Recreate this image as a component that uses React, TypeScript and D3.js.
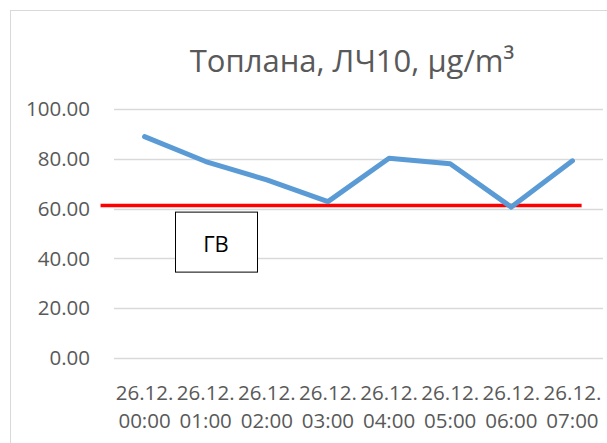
import React, { useEffect, useRef } from 'react';
import * as d3 from 'd3';

// hourly PM10 values
const categories = ['00:00', '01:00', '02:00', '03:00', '04:00', '05:00', '06:00', '07:00'];
const datePrefix = '26.12.';
const pm10 = [88.9, 78.9, 71.5, 62.8, 80.2, 78.0, 60.6, 79.2];
const limitValue = 61.2;
const yTicks = [0, 20, 40, 60, 80, 100];
const title = 'Топлана, ЛЧ10, µg/m³';
const limitLabel = 'ГВ';

const W = 607;
const H = 443;
const FONT = '"Open Sans", "Noto Sans", sans-serif';

export default function App() {
    const svgRef = useRef<SVGSVGElement>(null);

    useEffect(() => {
        const svg = d3.select(svgRef.current);
        svg.selectAll('*').remove();

        const margin = { top: 109, right: 4, bottom: 85, left: 114 };
        const innerW = W - margin.left - margin.right;
        const innerH = H - margin.top - margin.bottom;

        svg.append('rect')
            .attr('width', W).attr('height', H).attr('fill', '#fff');

        // chart area border
        svg.append('rect')
            .attr('x', 10.5).attr('y', 10.5)
            .attr('width', W + 20).attr('height', H + 20)
            .attr('fill', 'none')
            .attr('stroke', '#d9d9d9')
            .attr('stroke-width', 1);

        svg.append('text')
            .attr('x', 352)
            .attr('y', 72)
            .attr('text-anchor', 'middle')
            .style('font-family', FONT)
            .style('font-size', '31px')
            .style('fill', '#595959')
            .text(title);

        const g = svg.append('g')
            .attr('transform', `translate(${margin.left},${margin.top})`);

        const x = d3.scaleBand<string>()
            .domain(categories)
            .range([0, innerW]);

        const y = d3.scaleLinear()
            .domain([0, 100])
            .range([innerH, 0]);

        // gridlines
        g.selectAll('.grid')
            .data(yTicks)
            .enter()
            .append('line')
            .attr('x1', 0)
            .attr('x2', innerW)
            .attr('y1', d => Math.round(y(d)) + 0.5)
            .attr('y2', d => Math.round(y(d)) + 0.5)
            .attr('stroke', '#d9d9d9')
            .attr('stroke-width', 1.5);

        // y tick labels
        g.selectAll('.ytick')
            .data(yTicks)
            .enter()
            .append('text')
            .attr('x', -24)
            .attr('y', d => y(d))
            .attr('dy', '0.35em')
            .attr('text-anchor', 'end')
            .style('font-family', FONT)
            .style('font-size', '20.5px')
            .style('fill', '#595959')
            .text(d => d.toFixed(2));

        // x tick labels, two lines
        const xl = g.selectAll('.xtick')
            .data(categories)
            .enter()
            .append('text')
            .attr('text-anchor', 'middle')
            .style('font-family', FONT)
            .style('font-size', '20.5px')
            .style('fill', '#595959');
        xl.append('tspan')
            .attr('x', d => (x(d) as number) + x.bandwidth() / 2)
            .attr('y', innerH + 42)
            .text(datePrefix);
        xl.append('tspan')
            .attr('x', d => (x(d) as number) + x.bandwidth() / 2)
            .attr('y', innerH + 70)
            .text(d => d);

        // limit line
        const xFirst = (x(categories[0]) as number) + x.bandwidth() / 2;
        const xLast = (x(categories[categories.length - 1]) as number) + x.bandwidth() / 2;
        g.append('line')
            .attr('x1', xFirst - x.bandwidth() * 0.72)
            .attr('x2', xLast + x.bandwidth() * 0.15)
            .attr('y1', y(limitValue))
            .attr('y2', y(limitValue))
            .attr('stroke', '#ff0000')
            .attr('stroke-width', 3.5);

        // PM10 line
        const line = d3.line<number>()
            .x((_, i) => (x(categories[i]) as number) + x.bandwidth() / 2)
            .y(d => y(d));

        g.append('path')
            .datum(pm10)
            .attr('fill', 'none')
            .attr('stroke', '#5b9bd5')
            .attr('stroke-width', 5)
            .attr('stroke-linejoin', 'round')
            .attr('stroke-linecap', 'round')
            .attr('d', line);

        // limit label box
        const boxX = 175 - margin.left;
        const boxY = y(limitValue) + 6;
        g.append('rect')
            .attr('x', boxX + 0.5)
            .attr('y', boxY + 0.5)
            .attr('width', 82)
            .attr('height', 60)
            .attr('fill', '#fff')
            .attr('stroke', '#000')
            .attr('stroke-width', 1);
        g.append('text')
            .attr('x', boxX + 41)
            .attr('y', boxY + 40)
            .attr('text-anchor', 'middle')
            .style('font-family', FONT)
            .style('font-size', '22px')
            .style('fill', '#000')
            .text(limitLabel);
    }, []);

    return (
        <svg
            ref={svgRef}
            width={W}
            height={H}
            style={{ position: 'absolute', left: 0, top: 0, display: 'block' }}
        />
    );
}
